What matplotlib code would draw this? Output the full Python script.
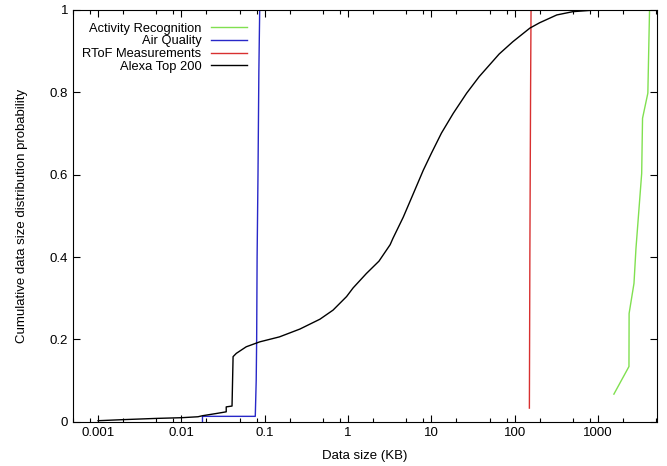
import matplotlib
matplotlib.use("Agg")
import matplotlib.pyplot as plt
from matplotlib.ticker import LogLocator, NullFormatter, FixedLocator

plt.rcParams['font.family'] = ['Liberation Sans', 'DejaVu Sans']

# CDF of data sizes (KB)
act_x = [1550, 2350, 2360, 2700, 2850, 3340, 3420, 3960, 4150]
act_y = [0.067, 0.134, 0.263, 0.336, 0.42, 0.603, 0.737, 0.798, 1.0]

air_x = [0.0179, 0.0179, 0.077, 0.079, 0.080, 0.081, 0.083, 0.085, 0.087]
air_y = [0.0, 0.013, 0.013, 0.1, 0.2, 0.4, 0.6, 0.85, 1.0]

rtof_x = [150, 152, 155, 157]
rtof_y = [0.033, 0.4, 0.8, 1.0]

alexa_x = [0.001, 0.002, 0.005, 0.01, 0.0158, 0.018, 0.0264, 0.0345, 0.0345,
           0.0405, 0.0417, 0.0456, 0.060, 0.0873, 0.150, 0.264, 0.46, 0.66,
           0.96, 1.15, 1.66, 2.35, 3.2, 3.45, 4.6, 6.1, 8.0, 10.0, 13.2,
           18.3, 26.5, 37.4, 65, 95, 152, 199, 320, 500, 800, 1000, 4000]
alexa_y = [0.0024, 0.005, 0.008, 0.0097, 0.012, 0.0146, 0.020, 0.024, 0.036,
           0.038, 0.158, 0.166, 0.182, 0.194, 0.206, 0.225, 0.249, 0.271,
           0.304, 0.325, 0.360, 0.390, 0.430, 0.445, 0.497, 0.555, 0.611,
           0.652, 0.701, 0.749, 0.798, 0.838, 0.893, 0.923, 0.956, 0.969,
           0.988, 0.996, 0.999, 1.0, 1.0]

fig = plt.figure(figsize=(6.67, 4.66), dpi=100)
ax = fig.add_axes([73 / 667, 1 - 421.7 / 466, (657 - 73) / 667, (421.7 - 10) / 466])

ax.plot(act_x, act_y, color='#80e050', lw=1, label='Activity Recognition')
ax.plot(air_x, air_y, color='#2828c8', lw=1, label='Air Quality')
ax.plot(rtof_x, rtof_y, color='#d83030', lw=1, label='RToF Measurements')
ax.plot(alexa_x, alexa_y, color='black', lw=1, label='Alexa Top 200')

ax.set_xscale('log')
ax.set_xlim(0.0005, 5100)
ax.set_ylim(0, 1)
ax.xaxis.set_major_locator(FixedLocator([0.001, 0.01, 0.1, 1, 10, 100, 1000]))
ax.set_xticklabels(['0.001', '0.01', '0.1', '1', '10', '100', '1000'])
ax.xaxis.set_minor_locator(LogLocator(base=10, subs=[2, 5, 8]))
ax.xaxis.set_minor_formatter(NullFormatter())
ax.set_yticks([0, 0.2, 0.4, 0.6, 0.8, 1])
ax.set_yticklabels(['0', '0.2', '0.4', '0.6', '0.8', '1'])
ax.tick_params(which='both', direction='in', top=True, right=True, labelsize=9.5)
ax.tick_params(which='major', length=5, width=0.8)
ax.tick_params(which='minor', length=3, width=0.8)

ax.set_xlabel('Data size (KB)', fontsize=9.5)
ax.set_ylabel('Cumulative data size distribution probability', fontsize=9.5)
ax.xaxis.set_label_coords(0.5, -0.069)
ax.yaxis.set_label_coords(-0.077, 0.5)

leg = ax.legend(loc='upper left', bbox_to_anchor=(0.005, 0.985), frameon=False,
                markerfirst=False, fontsize=9.3, handlelength=2.8,
                handletextpad=0.7, labelspacing=0.05, borderpad=0)

fig.savefig('out.png', dpi=100)
